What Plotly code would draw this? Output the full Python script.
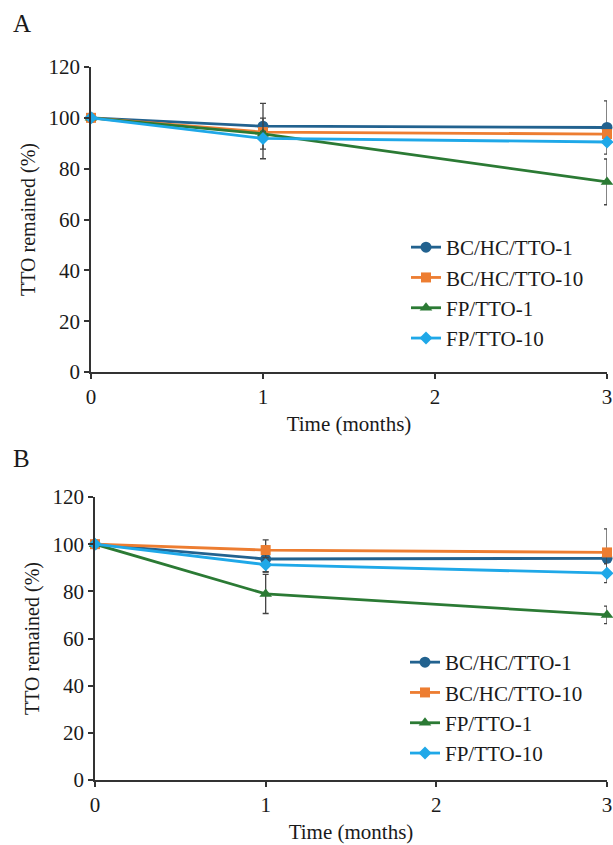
import plotly.graph_objects as go

# ---------------- data ----------------
months = [0, 1, 3]
series_names = ["BC/HC/TTO-1", "BC/HC/TTO-10", "FP/TTO-1", "FP/TTO-10"]

# Panel A
a_bc1 = [100, 96.7, 96.2]
a_bc10 = [100, 94.4, 93.6]
a_fp1 = [100, 93.7, 74.8]
a_fp10 = [100, 91.9, 90.5]
a_bc1_err = [0, 9.0, 10.5]
a_bc10_err = [0, 1.0, 1.0]
a_fp1_err = [0, 1.0, 9.0]
a_fp10_err = [0, 8.0, 1.0]

# Panel B
b_bc1 = [100, 93.7, 94.0]
b_bc10 = [100, 97.5, 96.5]
b_fp1 = [100, 78.9, 70.0]
b_fp10 = [100, 91.3, 87.7]
b_bc1_err = [0, 5.5, 1.0]
b_bc10_err = [0, 4.3, 10.0]
b_fp1_err = [0, 8.3, 3.7]
b_fp10_err = [0, 3.0, 4.0]

x_ticks = [0, 1, 2, 3]
y_ticks = [0, 20, 40, 60, 80, 100, 120]

# ---------------- styles ----------------
colors = ["#22628F", "#ED7D31", "#2B7A34", "#1FA8E8"]
symbols = ["circle", "square", "triangle-up", "diamond"]
msizes = [11, 10, 11, 10]
FONT = "Liberation Serif, Times New Roman, serif"
TXT = "#1a1a1a"
AX = "#333333"

W, H = 613, 845


def px_x(p):
    return p / W


def px_y(p):
    return 1 - p / H


fig = go.Figure()

panels = [
    ("x", "y", "legend", [a_bc1, a_bc10, a_fp1, a_fp10],
     [a_bc1_err, a_bc10_err, a_fp1_err, a_fp10_err]),
    ("x2", "y2", "legend2", [b_bc1, b_bc10, b_fp1, b_fp10],
     [b_bc1_err, b_bc10_err, b_fp1_err, b_fp10_err]),
]

for xa, ya, lg, vals, errs in panels:
    for i, name in enumerate(series_names):
        fig.add_trace(go.Scatter(
            x=months, y=vals[i], name=name, mode="lines+markers",
            xaxis=xa, yaxis=ya, legend=lg, cliponaxis=False,
            line=dict(color=colors[i], width=2.8),
            marker=dict(symbol=symbols[i], size=msizes[i], color=colors[i]),
            error_y=dict(type="data", array=errs[i], visible=True,
                         color="#444444", thickness=1.3, width=3),
        ))

axis_common = dict(
    showline=True, linecolor=AX, linewidth=1.6, ticks="outside",
    ticklen=5, tickcolor=AX, tickwidth=1.6, showgrid=False, zeroline=False,
    automargin=False,
    tickfont=dict(family=FONT, size=21, color=TXT),
)

# Panel geometry (pixels)
A_x0, A_x1, A_ytop, A_ybot = 91, 607, 67, 372
B_x0, B_x1, B_ytop, B_ybot = 95, 607, 497, 780

fig.update_layout(
    width=W, height=H,
    margin=dict(l=0, r=0, t=0, b=0, autoexpand=False),
    paper_bgcolor="white", plot_bgcolor="white",
    font=dict(family=FONT, color=TXT),
    xaxis=dict(domain=[px_x(A_x0), px_x(A_x1)], range=[0, 3], tickvals=x_ticks,
               anchor="y",
               title=dict(text="Time (months)", standoff=8,
                          font=dict(family=FONT, size=21, color=TXT)),
               **axis_common),
    yaxis=dict(domain=[px_y(A_ybot), px_y(A_ytop)], range=[0, 120],
               tickvals=y_ticks, anchor="x",
               title=dict(text="TTO remained (%)", standoff=8,
                          font=dict(family=FONT, size=20, color=TXT)),
               **axis_common),
    xaxis2=dict(domain=[px_x(B_x0), px_x(B_x1)], range=[0, 3], tickvals=x_ticks,
                anchor="y2",
                title=dict(text="Time (months)", standoff=8,
                           font=dict(family=FONT, size=21, color=TXT)),
                **axis_common),
    yaxis2=dict(domain=[px_y(B_ybot), px_y(B_ytop)], range=[0, 120],
                tickvals=y_ticks, anchor="x2",
                title=dict(text="TTO remained (%)", standoff=8,
                           font=dict(family=FONT, size=20, color=TXT)),
                **axis_common),
    legend=dict(x=px_x(406), y=px_y(227), xanchor="left", yanchor="top",
                bgcolor="rgba(0,0,0,0)", font=dict(family=FONT, size=21, color=TXT),
                itemwidth=30, tracegroupgap=0),
    legend2=dict(x=px_x(405), y=px_y(642), xanchor="left", yanchor="top",
                 bgcolor="rgba(0,0,0,0)", font=dict(family=FONT, size=21, color=TXT),
                 itemwidth=30, tracegroupgap=0),
    annotations=[
        dict(text="A", x=px_x(11), y=px_y(23), xref="paper", yref="paper",
             xanchor="left", yanchor="middle", showarrow=False,
             font=dict(family=FONT, size=25, color=TXT)),
        dict(text="B", x=px_x(11), y=px_y(458), xref="paper", yref="paper",
             xanchor="left", yanchor="middle", showarrow=False,
             font=dict(family=FONT, size=25, color=TXT)),
    ],
)

fig.write_html("out.html")
